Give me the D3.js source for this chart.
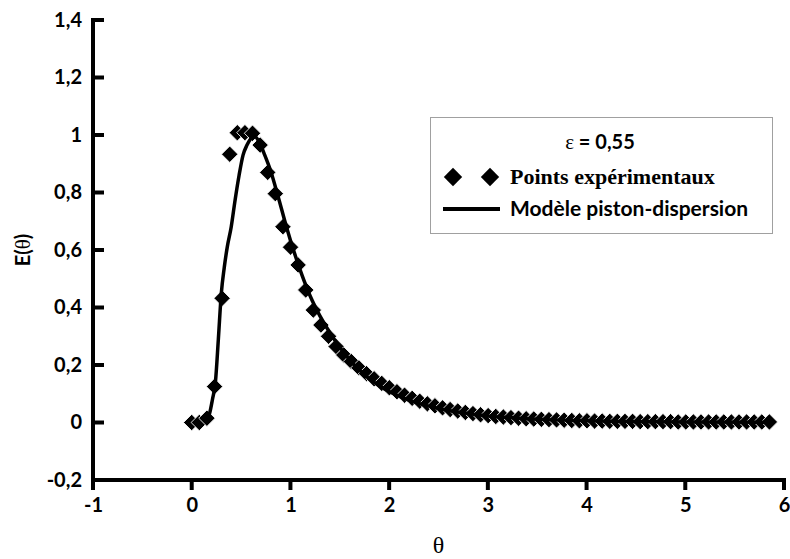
<!DOCTYPE html>
<html>
<head>
<meta charset="utf-8">
<script src="https://cdn.jsdelivr.net/npm/d3@7"></script>
<style>
  body { margin: 0; background: #fff; }
  svg { display: block; }
</style>
</head>
<body>
<div id="chart"></div>
<script>
// points expérimentaux
const thetaExp = [0, 0.077, 0.154, 0.231, 0.308, 0.385, 0.462, 0.539, 0.616, 0.693,
  0.77, 0.847, 0.924, 1.001, 1.078, 1.155, 1.232, 1.309, 1.386, 1.463,
  1.54, 1.617, 1.694, 1.771, 1.848, 1.925, 2.002, 2.079, 2.156, 2.233,
  2.31, 2.387, 2.464, 2.541, 2.618, 2.695, 2.772, 2.849, 2.926, 3.003,
  3.08, 3.157, 3.234, 3.311, 3.388, 3.465, 3.542, 3.619, 3.696, 3.773,
  3.85, 3.927, 4.004, 4.081, 4.158, 4.235, 4.312, 4.389, 4.466, 4.543,
  4.62, 4.697, 4.774, 4.851, 4.928, 5.005, 5.082, 5.159, 5.236, 5.313,
  5.39, 5.467, 5.544, 5.621, 5.698, 5.775, 5.852];
const eExp = [0, 0, 0.015, 0.125, 0.432, 0.933, 1.008, 1.008, 1.006, 0.965,
  0.87, 0.796, 0.681, 0.61, 0.548, 0.461, 0.391, 0.339, 0.3, 0.264,
  0.235, 0.212, 0.19, 0.17, 0.152, 0.136, 0.121, 0.107, 0.095, 0.084,
  0.074, 0.065, 0.058, 0.051, 0.045, 0.04, 0.035, 0.031, 0.027, 0.024,
  0.021, 0.019, 0.017, 0.015, 0.013, 0.012, 0.011, 0.01, 0.009, 0.008,
  0.007, 0.006, 0.006, 0.005, 0.005, 0.004, 0.004, 0.004, 0.004, 0.003,
  0.003, 0.003, 0.003, 0.003, 0.002, 0.002, 0.002, 0.002, 0.002, 0.002,
  0.002, 0.002, 0.002, 0.002, 0.002, 0.002, 0.002];

// modèle piston-dispersion
const thetaMod = [0.14, 0.18, 0.21, 0.24, 0.27, 0.30, 0.33, 0.36, 0.40, 0.44,
  0.48, 0.52, 0.56, 0.60, 0.64, 0.68, 0.74, 0.80, 0.88, 0.96,
  1.04, 1.12, 1.20, 1.30, 1.40, 1.50, 1.60, 1.70, 1.80, 1.90,
  2.0, 2.2, 2.4, 2.6, 2.8, 3.0, 3.3, 3.6, 4.0, 4.5, 5.0, 5.85];
const eMod = [0.005, 0.03, 0.08, 0.14, 0.29, 0.45, 0.54, 0.61, 0.68, 0.775,
  0.86, 0.93, 0.965, 0.988, 0.995, 0.978, 0.93, 0.875, 0.78, 0.68,
  0.59, 0.51, 0.44, 0.37, 0.312, 0.262, 0.218, 0.182, 0.152, 0.128,
  0.108, 0.078, 0.057, 0.042, 0.031, 0.023, 0.015, 0.01, 0.006, 0.003, 0.002, 0.001];

const xTicks = [-1, 0, 1, 2, 3, 4, 5, 6];
const yTicks = [-0.2, 0, 0.2, 0.4, 0.6, 0.8, 1, 1.2, 1.4];

const W = 790, H = 559;
const sans = "Lato, 'Open Sans', sans-serif";
const serif = "'Liberation Serif', 'DejaVu Serif', serif";

const svg = d3.select("#chart").append("svg")
  .attr("width", W)
  .attr("height", H);

const x = d3.scaleLinear().domain([-1, 6]).range([93, 784]);
const y = d3.scaleLinear().domain([-0.2, 1.4]).range([480, 20]);

const fmt = d => String(+d.toFixed(1)).replace(".", ",");

// étiquettes des axes
const gx = svg.append("g")
  .attr("transform", `translate(0,${y(-0.2)})`)
  .call(d3.axisBottom(x).tickValues(xTicks).tickFormat(fmt).tickSize(10).tickSizeOuter(0).tickPadding(8));

const gy = svg.append("g")
  .attr("transform", `translate(${x(-1)},0)`)
  .call(d3.axisLeft(y).tickValues(yTicks).tickFormat(fmt).tickSize(0).tickSizeOuter(0).tickPadding(11));

[gx, gy].forEach(g => {
  g.select(".domain").remove();
  g.selectAll(".tick line").remove();
  g.selectAll(".tick text")
    .attr("fill", "#000")
    .style("font-family", sans)
    .style("font-weight", "bold")
    .style("font-size", "20px");
});

// traits des axes, dessinés en rectangles pleins
const axisMarks = svg.append("g").attr("fill", "#000");

axisMarks.append("rect")
  .attr("x", x(-1) - 2).attr("y", y(1.4) - 2)
  .attr("width", 4).attr("height", y(-0.2) - y(1.4) + 4);
axisMarks.append("rect")
  .attr("x", x(-1) - 2).attr("y", y(-0.2) - 2)
  .attr("width", x(6) - x(-1) + 4).attr("height", 4);

axisMarks.selectAll(".yt")
  .data(yTicks)
  .join("rect")
  .attr("class", "yt")
  .attr("x", x(-1)).attr("y", d => y(d) - 2)
  .attr("width", 11).attr("height", 4);

axisMarks.selectAll(".xt")
  .data(xTicks)
  .join("rect")
  .attr("class", "xt")
  .attr("x", d => x(d) - 2).attr("y", y(-0.2))
  .attr("width", 4).attr("height", 10);

// points
const pts = thetaExp.map((t, i) => [t, eExp[i]]);
svg.append("g").selectAll("rect")
  .data(pts)
  .join("rect")
  .attr("x", -5.8).attr("y", -5.8)
  .attr("width", 11.6).attr("height", 11.6)
  .attr("transform", d => `translate(${x(d[0])},${y(d[1])}) rotate(45)`)
  .attr("fill", "#000")
  .attr("stroke", "#fff")
  .attr("stroke-width", 0.8);

// courbe du modèle
const mod = thetaMod.map((t, i) => [t, eMod[i]]);
svg.append("path")
  .datum(mod)
  .attr("fill", "none")
  .attr("stroke", "#000")
  .attr("stroke-width", 3.5)
  .attr("d", d3.line().x(d => x(d[0])).y(d => y(d[1])).curve(d3.curveMonotoneX));

// titres des axes
svg.append("text")
  .attr("x", x(2.5)).attr("y", 553)
  .attr("text-anchor", "middle")
  .style("font-family", serif)
  .style("font-size", "24px")
  .text("θ");

const yl = svg.append("text")
  .attr("transform", `translate(30,${y(0.6)}) rotate(-90)`)
  .attr("text-anchor", "middle")
  .style("font-family", sans)
  .style("font-weight", "bold")
  .style("font-size", "20px");
yl.append("tspan").text("E(");
yl.append("tspan").style("font-family", serif).style("font-weight", "normal").style("font-size", "21px").text("θ");
yl.append("tspan").text(")");

// légende
const lg = svg.append("g");
lg.append("rect")
  .attr("x", 430.5).attr("y", 117.5)
  .attr("width", 342).attr("height", 116)
  .attr("fill", "#fff")
  .attr("stroke", "#a0a0a0")
  .attr("stroke-width", 1);

const eps = lg.append("text")
  .attr("x", 600).attr("y", 149)
  .attr("text-anchor", "middle")
  .style("font-family", sans)
  .style("font-weight", "bold")
  .style("font-size", "20px");
eps.append("tspan").style("font-family", serif).style("font-weight", "normal").style("font-size", "21px").text("ε");
eps.append("tspan").text(" = 0,55");

[453, 490].forEach(cx => {
  lg.append("rect")
    .attr("x", -6.5).attr("y", -6.5)
    .attr("width", 13).attr("height", 13)
    .attr("transform", `translate(${cx},177) rotate(45)`)
    .attr("fill", "#000");
});
lg.append("text")
  .attr("x", 510).attr("y", 184)
  .style("font-family", serif)
  .style("font-weight", "bold")
  .style("font-size", "22px")
  .text("Points expérimentaux");

lg.append("rect")
  .attr("x", 443).attr("y", 207)
  .attr("width", 57).attr("height", 4)
  .attr("fill", "#000");
lg.append("text")
  .attr("x", 510).attr("y", 216)
  .style("font-family", sans)
  .style("font-weight", "bold")
  .style("font-size", "21px")
  .text("Modèle piston-dispersion");
</script>
</body>
</html>
